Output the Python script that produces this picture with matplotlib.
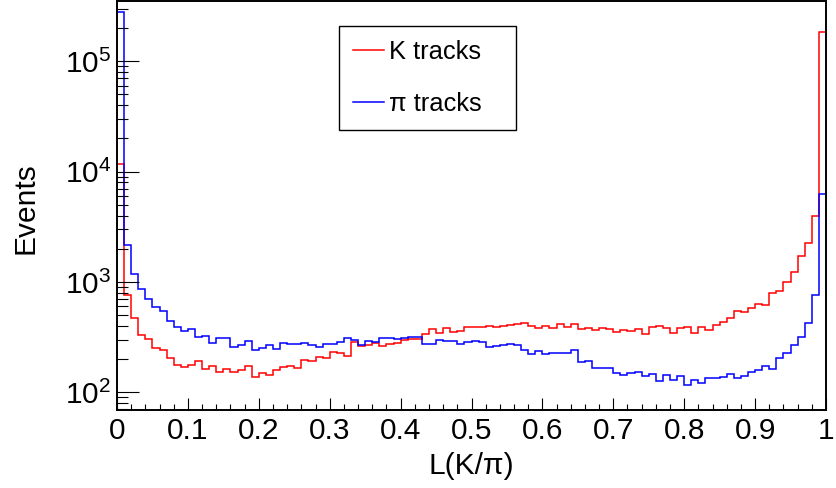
import numpy as np
import matplotlib.pyplot as plt
from matplotlib.ticker import MultipleLocator, LogLocator, NullFormatter

plt.rcParams['font.family'] = ['Liberation Sans', 'DejaVu Sans']

# 100 bins of the likelihood ratio L(K/pi) between 0 and 1
edges = np.linspace(0.0, 1.0, 101)

k_tracks = [
    11700, 755, 468, 332, 302, 254, 240, 206, 177, 171,
    178, 191, 164, 174, 154, 164, 153, 159, 174, 138,
    151, 143, 158, 169, 175, 166, 197, 192, 210, 206,
    230, 225, 214, 283, 261, 270, 281, 262, 275, 277,
    295, 305, 302, 337, 372, 342, 379, 354, 356, 387,
    387, 390, 398, 390, 395, 406, 412, 421, 398, 385,
    401, 379, 418, 387, 415, 374, 382, 369, 385, 372,
    354, 369, 361, 372, 340, 390, 398, 379, 342, 385,
    393, 344, 393, 366, 404, 430, 470, 541, 530, 583,
    634, 617, 791, 824, 1000, 1219, 1702, 2275, 3954, 182800,
]

pi_tracks = [
    280000, 2140, 1190, 855, 698, 592, 545, 445, 387, 361,
    377, 316, 325, 281, 312, 308, 259, 266, 290, 243,
    254, 270, 248, 281, 274, 274, 281, 266, 259, 272,
    272, 283, 312, 295, 270, 290, 285, 312, 312, 305,
    312, 314, 314, 275, 275, 297, 293, 290, 275, 283,
    293, 287, 259, 262, 266, 275, 270, 243, 221, 237,
    221, 227, 225, 229, 242, 188, 191, 166, 166, 167,
    149, 143, 149, 153, 141, 147, 127, 144, 129, 142,
    117, 130, 121, 136, 136, 137, 147, 135, 140, 152,
    159, 174, 163, 206, 228, 266, 318, 424, 760, 6300,
]

xtick_vals = np.round(np.arange(0, 1.01, 0.1), 1)
xtick_labels = ['0', '0.1', '0.2', '0.3', '0.4', '0.5', '0.6', '0.7', '0.8', '0.9', '1']

fig = plt.figure(figsize=(8.36, 4.88), dpi=100)
ax = fig.add_axes([117 / 836, 1 - 410 / 488, 709 / 836, 409.5 / 488])

ax.stairs(k_tracks, edges, baseline=None, color='#ff0000', lw=1.1, label='K tracks')
ax.stairs(pi_tracks, edges, baseline=None, color='#0000ff', lw=1.1, label='π tracks')

ax.set_yscale('log')
ax.set_xlim(0, 1)
ax.set_ylim(10 ** 1.84, 10 ** 5.55)

ax.set_xticks(xtick_vals)
ax.set_xticklabels(xtick_labels)
ax.xaxis.set_minor_locator(MultipleLocator(0.02))
ax.yaxis.set_major_locator(LogLocator(base=10))
ax.yaxis.set_minor_locator(LogLocator(base=10, subs=np.arange(2, 10)))
ax.yaxis.set_minor_formatter(NullFormatter())

ax.tick_params(axis='both', which='both', direction='in', top=False, right=False,
               width=0.8, labelsize=21.5)
ax.tick_params(axis='x', which='major', length=8.6, pad=5)
ax.tick_params(axis='x', which='minor', length=4)
ax.tick_params(axis='y', which='major', length=15.6, pad=4)
ax.tick_params(axis='y', which='minor', length=8)
for sp in ax.spines.values():
    sp.set_linewidth(1.4)

fig.text(471 / 836, 1 - 474 / 488, 'L(K/π)', ha='center', va='baseline', fontsize=21.5)
fig.text(33 / 836, 1 - 208 / 488, 'Events', rotation=90, rotation_mode='anchor',
         ha='center', va='baseline', fontsize=21.5)

# legend box: left edge, bottom edge, width, height in axes fractions
leg = ax.legend(loc='upper left', bbox_to_anchor=(0.313, 0.6886, 0.2497, 0.249),
                mode='expand', fontsize=18.4, frameon=True, fancybox=False,
                framealpha=1, edgecolor='black', borderaxespad=0, borderpad=0.55,
                handlelength=1.2, handletextpad=0.2, labelspacing=1.08)
leg.get_frame().set_linewidth(1.0)

fig.savefig('out.png', dpi=100)
